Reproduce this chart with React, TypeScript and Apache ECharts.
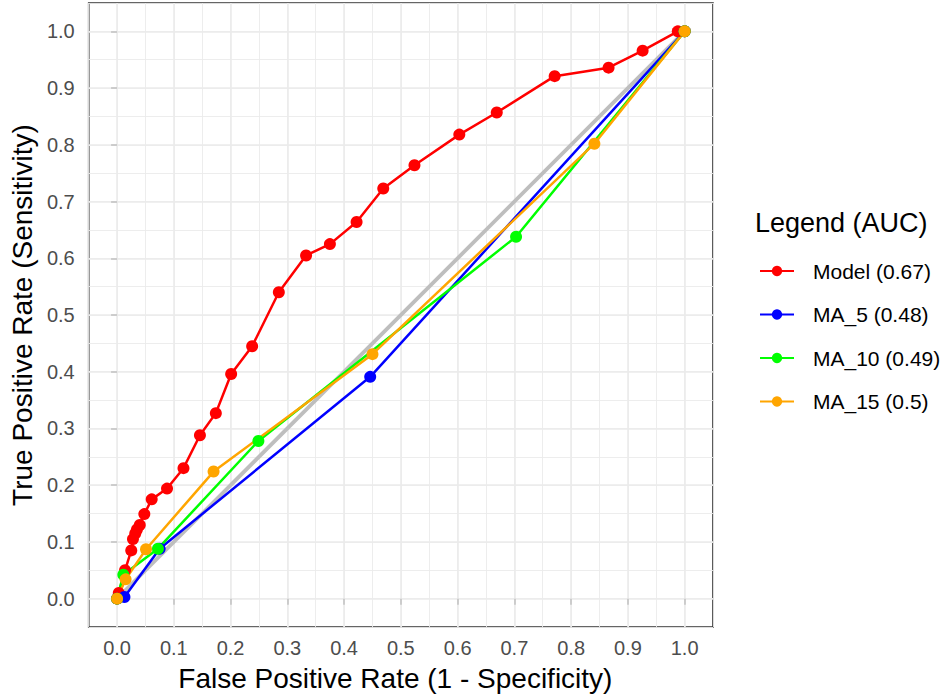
import React, { useEffect, useRef } from "react";
import * as echarts from "echarts";

const tickValues = [0, 0.1, 0.2, 0.3, 0.4, 0.5, 0.6, 0.7, 0.8, 0.9, 1.0];

const seriesNames = ["Model (0.67)", "MA_5 (0.48)", "MA_10 (0.49)", "MA_15 (0.5)"];
const seriesColors = ["#FF0000", "#0000FF", "#00FF00", "#FFA500"];

const modelFpr = [0, 0.003, 0.014, 0.025, 0.028, 0.032, 0.035, 0.04, 0.048, 0.061, 0.088, 0.117, 0.146, 0.174, 0.201, 0.238, 0.285, 0.333, 0.375, 0.422, 0.469, 0.524, 0.603, 0.669, 0.771, 0.866, 0.926, 0.988, 1.0];
const modelTpr = [0, 0.01, 0.05, 0.085, 0.105, 0.115, 0.122, 0.13, 0.149, 0.175, 0.194, 0.23, 0.288, 0.327, 0.396, 0.445, 0.54, 0.605, 0.625, 0.664, 0.723, 0.764, 0.818, 0.857, 0.921, 0.936, 0.966, 1.0, 1.0];

const ma5Fpr = [0, 0.013, 0.075, 0.446, 1.0];
const ma5Tpr = [0, 0.003, 0.088, 0.391, 1.0];

const ma10Fpr = [0, 0.011, 0.072, 0.249, 0.703, 1.0];
const ma10Tpr = [0, 0.042, 0.088, 0.278, 0.638, 1.0];

const ma15Fpr = [0, 0.015, 0.051, 0.17, 0.45, 0.841, 1.0];
const ma15Tpr = [0, 0.034, 0.087, 0.224, 0.431, 0.802, 1.0];

const diagonal = [[0, 0], [1, 1]];

const FONT = "Liberation Sans, Arial, Helvetica, sans-serif";

function zip(xs: number[], ys: number[]) {
  return xs.map((x, i) => [x, ys[i]]);
}

export default function App() {
  const ref = useRef<HTMLDivElement>(null);
  useEffect(() => {
    if (!ref.current) return;
    const chart = echarts.init(ref.current, undefined, { renderer: "svg" });
    const allX = [modelFpr, ma5Fpr, ma10Fpr, ma15Fpr];
    const allY = [modelTpr, ma5Tpr, ma10Tpr, ma15Tpr];

    const mainAxis = (name: string, gap: number, isY: boolean) => ({
      type: "value",
      gridIndex: 0,
      min: -0.05,
      max: 1.05,
      interval: 0.05,
      name,
      nameLocation: "middle",
      nameGap: gap,
      nameTextStyle: {
        fontSize: 28,
        color: "#000",
        fontFamily: FONT,
        padding: isY ? 0 : [0, 11, 0, 0],
      },
      axisLine: { show: false },
      axisTick: {
        show: true,
        customValues: tickValues,
        length: 6,
        lineStyle: { color: "#C4C4C4", width: 1.6 },
      },
      axisLabel: {
        show: true,
        customValues: tickValues,
        formatter: (v: number) => v.toFixed(1),
        fontSize: 20,
        color: "#4D4D4D",
        fontFamily: FONT,
        margin: isY ? 14 : 11,
      },
      splitLine: { show: true, lineStyle: { color: "#EBEBEB", width: 1.6 } },
    });
    const minorAxis = () => ({
      type: "value",
      gridIndex: 0,
      min: -0.05,
      max: 1.05,
      interval: 0.05,
      axisLine: { show: false },
      axisTick: { show: false },
      axisLabel: { show: false },
      splitLine: { show: true, lineStyle: { color: "#EBEBEB", width: 0.9 } },
    });

    const option: any = {
      animation: false,
      backgroundColor: "#FFFFFF",
      grid: {
        left: 86,
        right: 234,
        top: 3,
        bottom: 67,
        show: true,
        borderColor: "#333333",
        borderWidth: 1.6,
        backgroundColor: "transparent",
      },
      xAxis: [mainAxis("False Positive Rate (1 - Specificity)", 37, false), minorAxis()],
      yAxis: [mainAxis("True Positive Rate (Sensitivity)", 49, true), minorAxis()],
      legend: {
        orient: "vertical",
        left: 759,
        top: 260,
        padding: 0,
        itemWidth: 34,
        itemHeight: 13,
        itemGap: 21.5,
        data: seriesNames,
        textStyle: {
          fontSize: 21,
          color: "#000",
          fontFamily: FONT,
          lineHeight: 22,
          padding: [0, 0, 0, 14],
        },
      },
      graphic: [
        {
          type: "text",
          left: 755,
          top: 209,
          style: { text: "Legend (AUC)", font: `27px ${FONT}`, fill: "#000" },
        },
      ],
      series: [
        {
          type: "line",
          name: "diag",
          xAxisIndex: 0,
          yAxisIndex: 0,
          data: diagonal,
          symbol: "none",
          silent: true,
          lineStyle: { color: "#BEBEBE", width: 3.8 },
        },
        ...seriesNames.map((n, i) => ({
          type: "line",
          name: n,
          xAxisIndex: 0,
          yAxisIndex: 0,
          data: zip(allX[i], allY[i]),
          symbol: "circle",
          symbolSize: 12,
          showSymbol: true,
          color: seriesColors[i],
          itemStyle: { color: seriesColors[i] },
          lineStyle: { color: seriesColors[i], width: 2.5 },
        })),
      ],
    };
    chart.setOption(option);
    return () => chart.dispose();
  }, []);
  return (
    <div
      ref={ref}
      style={{ position: "fixed", left: 0, top: 0, width: 947, height: 697 }}
    />
  );
}
